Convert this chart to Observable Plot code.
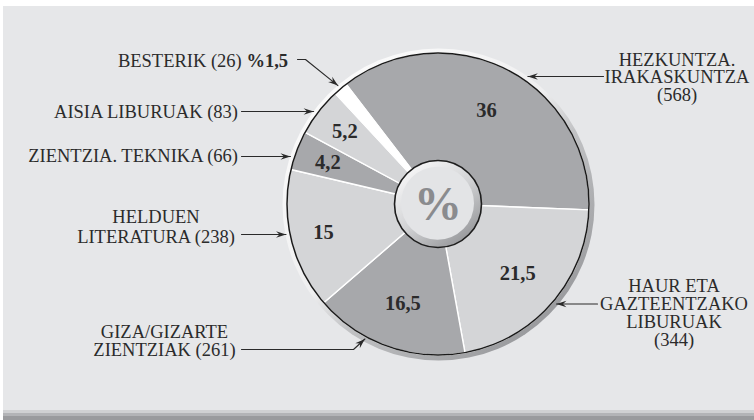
<!DOCTYPE html>
<html><head><meta charset="utf-8">
<script src="https://cdn.jsdelivr.net/npm/d3@7"></script>
<script src="https://cdn.jsdelivr.net/npm/@observablehq/plot@0.6"></script>
<style>
html,body{margin:0;padding:0;background:#fff;}
#frame{position:relative;width:754px;height:420px;overflow:hidden;background:#fff;}
#panel{position:absolute;left:3px;top:6px;right:0;height:404px;background:#e6e7e9;}
#band{position:absolute;left:3px;right:0;bottom:0;height:10px;background:linear-gradient(#d0d1d3 0 30%,#b3b4b7 30% 62%,#9a9b9e 62% 100%);}
#chart{position:absolute;left:0;top:0;}
</style></head><body>
<div id="frame"><div id="panel"></div><div id="band"></div><div id="chart"></div></div>
<script>
// ---- data ----
const categories = ["HEZKUNTZA. IRAKASKUNTZA", "HAUR ETA GAZTEENTZAKO LIBURUAK", "GIZA/GIZARTE ZIENTZIAK", "HELDUEN LITERATURA", "ZIENTZIA. TEKNIKA", "AISIA LIBURUAK", "BESTERIK"];
const counts = [568, 344, 261, 238, 66, 83, 26];
const percents = [36, 21.5, 16.5, 15, 4.2, 5.2, 1.5];
const sliceFills = ["#a7a8ab", "#d4d5d7", "#a7a8ab", "#d4d5d7", "#a7a8ab", "#d4d5d7", "#ffffff"];
const calloutText = [
  "HEZKUNTZA.\nIRAKASKUNTZA\n(568)",
  "HAUR ETA\nGAZTEENTZAKO\nLIBURUAK\n(344)",
  "GIZA/GIZARTE\nZIENTZIAK (261)",
  "HELDUEN\nLITERATURA (238)",
  "ZIENTZIA. TEKNIKA (66)",
  "AISIA LIBURUAK (83)",
  "BESTERIK (26) %1,5"
];

// ---- layout ----
const W = 754, H = 420;
const cx = 437.5, cy = 203.5, R = 151, R0 = 43.5;
const deg = Math.PI / 180;
const start = -37.5 * deg;
const rows = categories.map((c, i) => ({cat: c, count: counts[i], pct: percents[i], fill: sliceFills[i], label: calloutText[i]}));
const arcs = d3.pie().sort(null).value(d => d.pct).startAngle(start).endAngle(start + 2 * Math.PI)(rows);
const pt = (a, r) => [cx + r * Math.sin(a), cy - r * Math.cos(a)];
const mid = a => (a.startAngle + a.endAngle) / 2;
const onCircleAtY = (y, r, side) => [cx + side * Math.sqrt(r * r - (y - cy) ** 2), y];

// callout placement (text anchor point = last-line baseline; arrow route)
const callouts = [
  {x: 676.5, y: 100.5, anchor: "middle", lh: 0.95, route: a => [[603, 76], onCircleAtY(76, R + 5, 1)]},
  {x: 673.5, y: 345.5, anchor: "middle", lh: 0.97, route: a => [[597, 303.5], onCircleAtY(303.5, R + 4, 1)]},
  {x: 164, y: 355.5, anchor: "middle", lh: 1.0, route: a => [[241, 349], [353, 349], pt(mid(a) + 9 * deg, R + 2.5)]},
  {x: 155.5, y: 242, anchor: "middle", lh: 1.04, route: a => [[241, 234], onCircleAtY(234, R + 4, -1)]},
  {x: 237.5, y: 161, anchor: "end", lh: 1, route: a => [[241, 156], onCircleAtY(156, R + 4, -1)]},
  {x: 237.5, y: 117, anchor: "end", lh: 1, route: a => [[241, 111], onCircleAtY(111, R + 4, -1)]},
  {x: 287.5, y: 66, anchor: "end", lh: 1, route: a => [[297, 59], [305, 59], pt(mid(a), R + 4)]}
];

// slices as closed polygons
const sliceMarks = arcs.map(a => {
  const n = Math.max(4, Math.ceil((a.endAngle - a.startAngle) / 0.01));
  const pts = [[cx, cy]];
  for (let i = 0; i <= n; i++) pts.push(pt(a.startAngle + (a.endAngle - a.startAngle) * i / n, R));
  return Plot.line(pts, {x: d => d[0], y: d => d[1], fill: a.data.fill, stroke: "#ffffff", strokeWidth: 1.4, curve: "linear-closed"});
});

// arrows
const arrowMarks = [];
arcs.forEach((a, i) => {
  const route = callouts[i].route(a);
  arrowMarks.push(Plot.line(route, {x: d => d[0], y: d => d[1], stroke: "#2a2a2a", strokeWidth: 1.1}));
  const [px, py] = route[route.length - 2];
  const [tx, ty] = route[route.length - 1];
  const L = Math.hypot(tx - px, ty - py), ux = (tx - px) / L, uy = (ty - py) / L;
  const nx = -uy, ny = ux, hl = 10, hw = 3.3;
  const head = [[tx, ty], [tx - hl * ux + hw * nx, ty - hl * uy + hw * ny], [tx - 0.65 * hl * ux, ty - 0.65 * hl * uy], [tx - hl * ux - hw * nx, ty - hl * uy - hw * ny]];
  arrowMarks.push(Plot.line(head, {x: d => d[0], y: d => d[1], fill: "#2a2a2a", stroke: "none", curve: "linear-closed"}));
});

const fmt = v => String(v).replace(".", ",");
const serif = "'Liberation Serif', 'DejaVu Serif', serif";

const chart = Plot.plot({
  width: W, height: H, margin: 0,
  x: {domain: [0, W], range: [0, W], axis: null},
  y: {domain: [0, H], range: [0, H], axis: null},
  style: {background: "transparent", fontFamily: serif},
  marks: [
    Plot.dot([0], {x: () => cx + 0.5, y: () => cy + 0.5, r: R + 5, fill: "url(#rimGrad)", stroke: "none"}),
    ...sliceMarks,
    Plot.dot([0], {x: () => cx, y: () => cy, r: R, fill: "none", stroke: "#1a1a1a", strokeWidth: 1.5}),
    Plot.dot([0], {x: () => cx, y: () => cy, r: R0, fill: "url(#innerGrad)", stroke: "#1e1e1e", strokeWidth: 1.6}),
    Plot.dot([0], {x: () => cx - 0.5, y: () => cy - 0.8, r: R0 - 7, fill: "#e3e4e6", stroke: "none"}),
    Plot.text([0], {x: () => cx, y: () => cy + 1, text: () => "%", fontSize: 48, fontWeight: "bold", fill: "#8a8b8e", fontFamily: serif}),
    Plot.text(arcs.filter(a => a.data.pct >= 2), {
      x: a => pt(mid(a), a.data.pct >= 16 ? 0.70 * R : 0.78 * R)[0],
      y: a => pt(mid(a), a.data.pct >= 16 ? 0.70 * R : 0.78 * R)[1],
      text: a => fmt(a.data.pct), fontSize: 20.5, fontWeight: "bold", fill: "#2b2b2b", fontFamily: serif
    }),
    ...arrowMarks,
    ...arcs.map((a, i) => Plot.text([a], {
      x: () => callouts[i].x, y: () => callouts[i].y, text: d => d.data.label,
      textAnchor: callouts[i].anchor, lineAnchor: "bottom", lineHeight: callouts[i].lh,
      fontSize: 18.5, fill: "#2b2b2b", fontFamily: serif
    }))
  ]
});

// gradients
const svg = d3.select(chart);
const defs = svg.insert("defs", ":first-child");
const g1 = defs.append("linearGradient").attr("id", "rimGrad").attr("x1", 0.15).attr("y1", 0.1).attr("x2", 0.85).attr("y2", 0.9);
[[0, "#fbfbfb"], [0.45, "#efeff0"], [0.6, "#c2c3c5"], [1, "#97989b"]].forEach(([o, c]) => g1.append("stop").attr("offset", o).attr("stop-color", c));
const g2 = defs.append("linearGradient").attr("id", "innerGrad").attr("x1", 0.2).attr("y1", 0.1).attr("x2", 0.8).attr("y2", 0.9);
[[0, "#f4f4f5"], [0.5, "#d2d3d5"], [1, "#9a9b9e"]].forEach(([o, c]) => g2.append("stop").attr("offset", o).attr("stop-color", c));

// bold percentage in the BESTERIK callout
svg.selectAll("text").each(function () {
  if (this.textContent === calloutText[6]) {
    const t = d3.select(this);
    t.text(null);
    t.append("tspan").text("BESTERIK (26) ");
    t.append("tspan").attr("font-weight", "bold").text("%1,5");
  }
});

document.getElementById("chart").appendChild(chart);
</script>
</body></html>
